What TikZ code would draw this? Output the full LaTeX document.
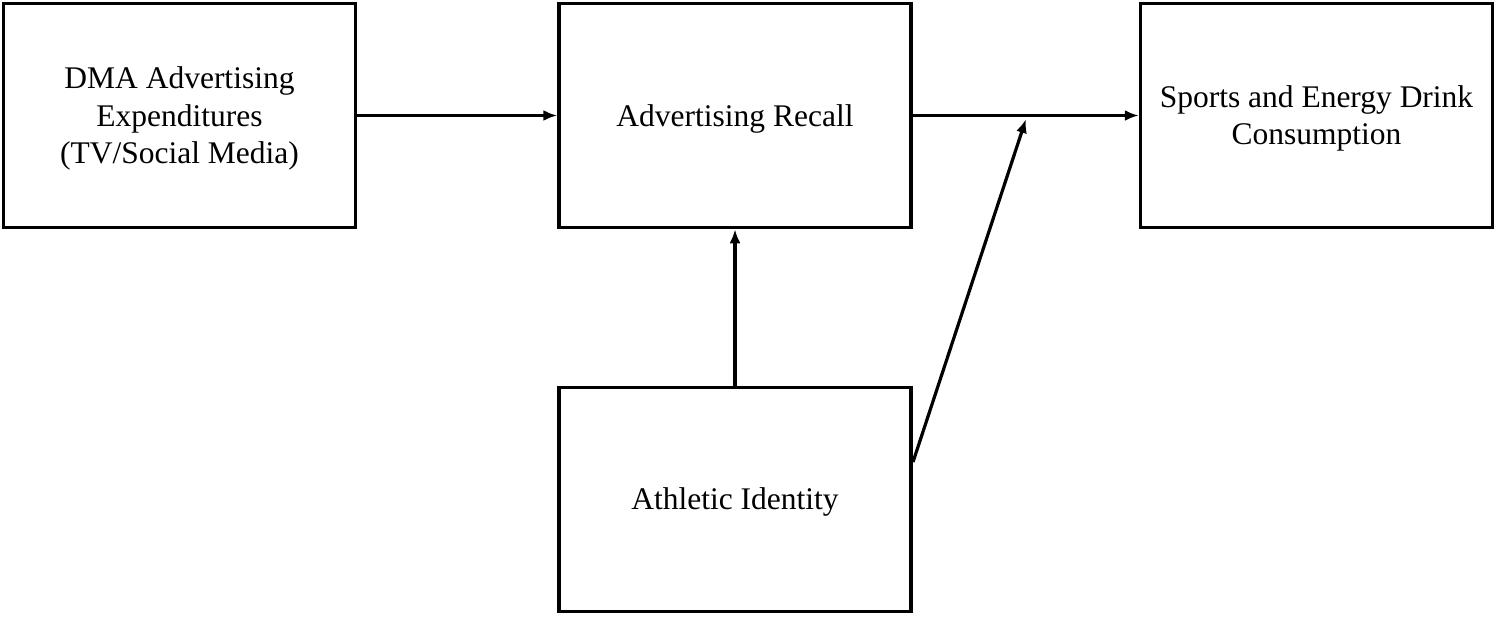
\documentclass[tikz,border=0pt]{standalone}
\usepackage{fontspec}
\setmainfont{Liberation Serif}
\usetikzlibrary{arrows.meta}
\begin{document}
\begin{tikzpicture}[x=1pt,y=-1pt,
  boxnode/.style={draw,line width=3.5pt,minimum width=352pt,minimum height=224pt,inner sep=0pt},
  txt/.style={align=center,inner sep=0pt,font=\fontsize{31.5}{37.5}\selectfont},
  arr/.style={line width=3.2pt,-{Latex[length=14pt,width=11pt]}}]
\useasboundingbox (0,0) rectangle (1497,616);
\node[boxnode] (dma) at (179.5,115.5) {};
\node[boxnode] (rec) at (735,115.5) {};
\node[boxnode] (con) at (1316.5,115.5) {};
\node[boxnode] (ath) at (735,499.5) {};
\node[txt] (dmat) at ([yshift=-3pt]dma.center) {DMA Advertising\\Expenditures\\(TV/Social Media)};
\node[txt] (rect) at ([yshift=-3pt]rec.center) {Advertising Recall};
\node[txt] (cont) at ([yshift=-3pt]con.center) {Sports and Energy Drink\\Consumption};
\node[txt] (atht) at ([yshift=-2pt]ath.center) {Athletic Identity};
\coordinate (s) at (913,462);
\coordinate (t) at (1026,119);
\draw[arr] (dma.east) -- (rec.west);
\draw[arr] (rec.east) -- (con.west);
\draw[arr] (ath.north) -- (rec.south);
\draw[arr] (s) -- (t);
\end{tikzpicture}
\end{document}
